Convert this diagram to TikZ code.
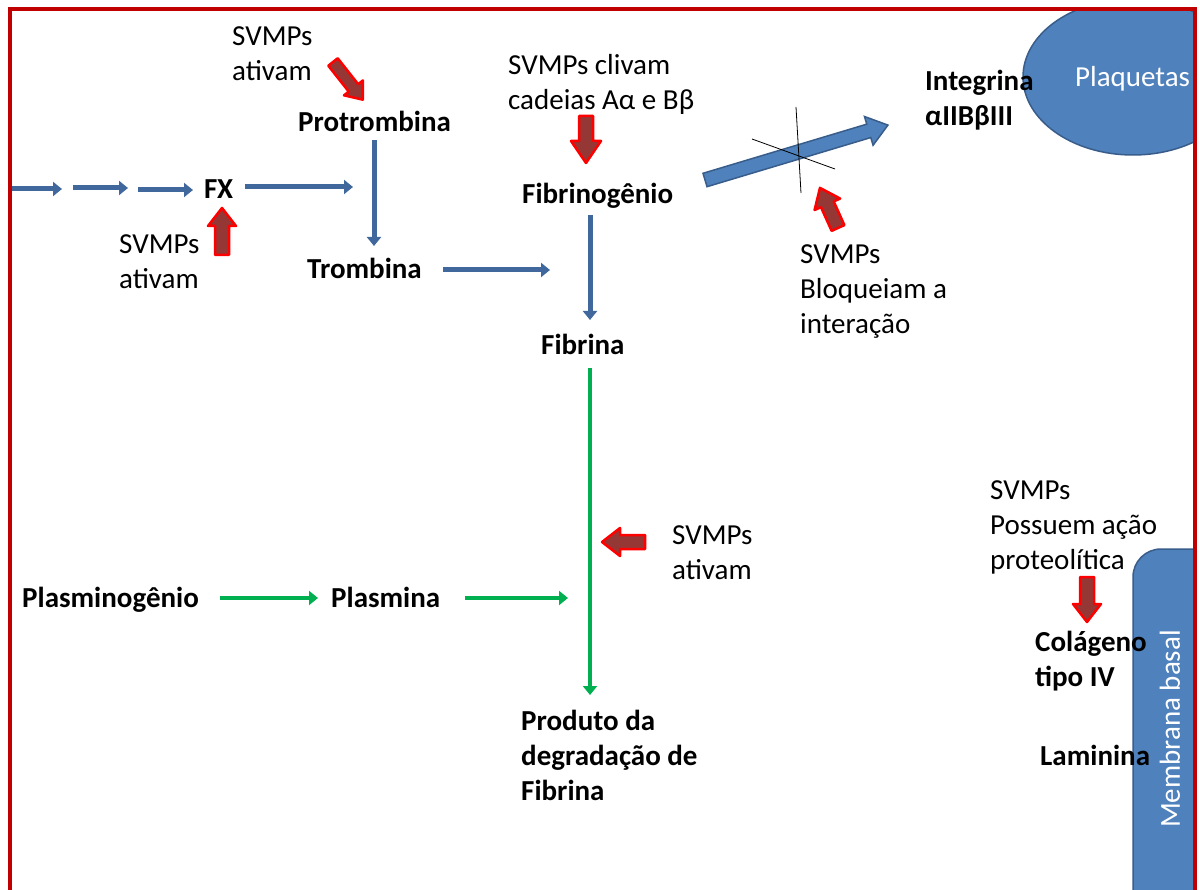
\documentclass[tikz,border=0pt]{standalone}
\usepackage{fontspec}
\setmainfont{Carlito}
\usetikzlibrary{arrows.meta}
\definecolor{frameRed}{HTML}{C00000}
\definecolor{lineBlue}{HTML}{41689C}
\definecolor{shapeBlue}{HTML}{4F81BD}
\definecolor{shapeEdge}{HTML}{385D8A}
\definecolor{arrRedFill}{HTML}{953735}
\definecolor{arrRedEdge}{HTML}{FF0000}
\definecolor{grn}{HTML}{00B050}
\tikzset{
 txt/.style={anchor=base west, inner sep=0pt, align=left, font=\fontsize{29}{35}\selectfont},
 btxt/.style={txt, font=\fontsize{29}{35}\selectfont\bfseries},
 bluearr/.style={draw=lineBlue, line width=5pt, -{Triangle[length=9pt,width=14pt]}},
 grnarr/.style={draw=grn, line width=4.5pt, -{Triangle[length=9pt,width=14pt]}},
 redblk/.style={fill=arrRedFill, draw=arrRedEdge, line width=2.5pt, line join=round},
 blueblk/.style={fill=shapeBlue, draw=shapeEdge, line width=1.5pt, line join=miter},
 shapefill/.style={fill=shapeBlue, draw=shapeEdge, line width=1.5pt},
 crossline/.style={draw=black, line width=0.8pt},
}
% #1 style, #2 x, #3 y, #4 angle, #5 length, #6 shaft half width, #7 head half width, #8 head length
\newcommand\blkarr[8]{%
 \begin{scope}[shift={(#2,#3)},rotate=#4]
 \filldraw[#1] (0,-#6) -- ({#5-#8},-#6) -- ({#5-#8},-#7) -- (#5,0) -- ({#5-#8},#7) -- ({#5-#8},#6) -- (0,#6) -- cycle;
 \end{scope}}
\begin{document}
\begin{tikzpicture}[x=1pt,y=-1pt]
\useasboundingbox (0,0) rectangle (1200,890);
\fill[white] (0,0) rectangle (1200,890);
% background shapes
\begin{scope}
\clip (11,11) rectangle (1193,890);
\filldraw[shapefill] (1133,77) ellipse [x radius=110pt, y radius=78pt];
\filldraw[shapefill, rounded corners=28pt] (1133,549) rectangle (1260,960);
\end{scope}
% frame
\draw[frameRed, line width=4pt] (9.5,892) -- (9.5,9.5) -- (1194.5,9.5) -- (1194.5,892);
% texts (anchored at the baseline of the last line)
\node[txt] (svA) at (232,81) {SVMPs\\ativam};
\node[btxt] (prot) at (298,132) {Protrombina};
\node[btxt] (fx) at (204,199) {FX};
\node[txt] (svB) at (119,289) {SVMPs\\ativam};
\node[btxt] (trom) at (307,279) {Trombina};
\node[txt] (svC) at (508,110) {SVMPs clivam\\cadeias Aα e Bβ};
\node[btxt] (fgen) at (522,204) {Fibrinogênio};
\node[btxt] (fib) at (541,355) {Fibrina};
\node[btxt] (integ) at (925,126) {Integrina\\αIIBβIII};
\node[txt] (svD) at (800,334) {SVMPs\\Bloqueiam a\\interação};
\node[txt, text=white] (plaq) at (1075,87) {Plaquetas};
\node[txt] (svE) at (672,579) {SVMPs\\ativam};
\node[btxt] (plg) at (22,607) {Plasminogênio};
\node[btxt] (plm) at (331,607) {Plasmina};
\node[btxt] (prod) at (521,800) {Produto da\\degradação de\\Fibrina};
\node[txt] (svF) at (990,569) {SVMPs\\Possuem ação\\proteolítica};
\node[btxt] (col) at (1035,686) {Colágeno\\tipo IV};
\node[btxt] (lam) at (1040,765) {Laminina};
\node[text=white, rotate=90, inner sep=0pt, font=\fontsize{29}{35}\selectfont] (memb) at (1170,729) {Membrana basal};
% connector end points
\coordinate (ch1s) at (12,189); \coordinate (ch1e) at (62,189);
\coordinate (ch2s) at (73,188); \coordinate (ch2e) at (128,188);
\coordinate (ch3s) at (138,190); \coordinate (ch3e) at (193,190);
\coordinate (fxo) at (245,187); \coordinate (fxe) at (353,187);
\coordinate (proto) at (374,140); \coordinate (tromi) at (374,246);
\coordinate (tromo) at (443,270); \coordinate (trome) at (550,270);
\coordinate (fgeno) at (590,215); \coordinate (fibi) at (590,320);
\coordinate (fibo) at (590,368); \coordinate (prodi) at (590,695);
\coordinate (plgo) at (220,598); \coordinate (plmi) at (318,598);
\coordinate (plmo) at (465,598); \coordinate (plme) at (568,598);
% blue connectors
\draw[bluearr] (ch1s) -- (ch1e);
\draw[bluearr] (ch2s) -- (ch2e);
\draw[bluearr] (ch3s) -- (ch3e);
\draw[bluearr] (fxo) -- (fxe);
\draw[bluearr] (proto) -- (tromi);
\draw[bluearr] (tromo) -- (trome);
\draw[bluearr] (fgeno) -- (fibi);
% green connectors
\draw[grnarr] (fibo) -- (prodi);
\draw[grnarr] (plgo) -- (plmi);
\draw[grnarr] (plmo) -- (plme);
% big blue arrow Fibrinogenio -> Integrina
\blkarr{blueblk}{705}{180}{16.7}{191}{7}{15}{20}
% cross
\draw[crossline] (796,107) -- (801,193);
\draw[crossline] (752,139) -- (835,169);
% red block arrows
\blkarr{redblk}{333}{62}{-51.7}{48}{6}{12}{15}
\blkarr{redblk}{222}{255}{90}{47}{7}{14}{18}
\blkarr{redblk}{586}{116}{-90}{47}{7}{15}{22}
\blkarr{redblk}{838}{228}{114.2}{44}{7}{14}{18}
\blkarr{redblk}{645}{542}{180}{43}{7}{14}{18}
\blkarr{redblk}{1087}{577}{-90}{45}{7}{14}{18}
\end{tikzpicture}
\end{document}
